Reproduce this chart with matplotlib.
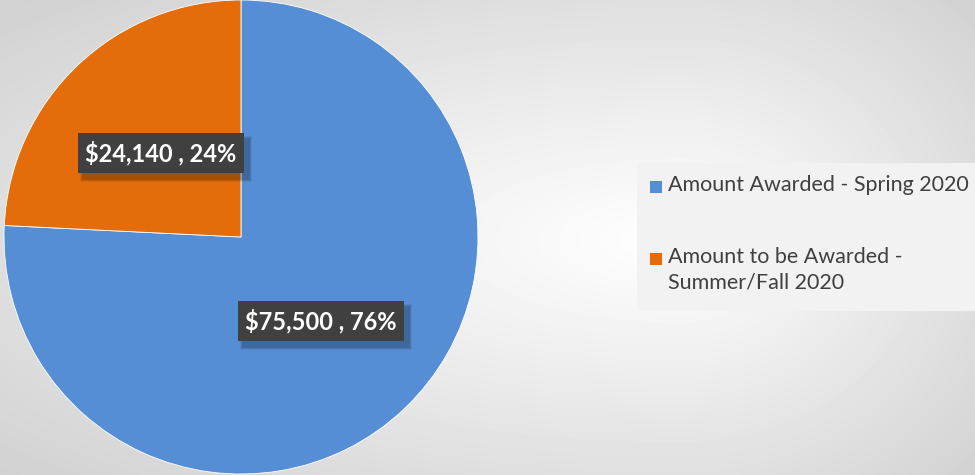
import numpy as np
import matplotlib
matplotlib.use('Agg')
import matplotlib.pyplot as plt
from matplotlib.patches import Rectangle
from matplotlib.transforms import IdentityTransform

# data
labels = ['Amount Awarded - Spring 2020', 'Amount to be Awarded -\nSummer/Fall 2020']
amounts = [75500, 24140]
colors = ['#558ED5', '#E46C0A']

W, H = 975, 475
plt.rcParams['font.family'] = ['Lato', 'DejaVu Sans']

fig = plt.figure(figsize=(W / 100, H / 100), dpi=100)

# background: soft white-to-grey gradient
bg = fig.add_axes([0, 0, 1, 1], zorder=0)
xx, yy = np.meshgrid(np.arange(W), np.arange(H))
cx, cy = 680, 240
sx = np.where(xx > cx, 400.0, 900.0)
d = np.sqrt(((xx - cx) / sx) ** 2 + ((yy - cy) / 330.0) ** 2)
g = np.clip(255 - 44 * d, 195, 255) / 255
bg.imshow(g, cmap='gray', vmin=0, vmax=1, aspect='auto', interpolation='bilinear')
bg.set_axis_off()

# pie
ax = fig.add_axes([4 / W, 1 / H, 474 / W, 474 / H], zorder=1)
wedges, _ = ax.pie(amounts, colors=colors, startangle=90, counterclock=False,
                   radius=1, wedgeprops=dict(linewidth=0.6, edgecolor='white'))
ax.set_xlim(-1, 1)
ax.set_ylim(-1, 1)
ax.set_aspect('equal')
ax.set_axis_off()

total = sum(amounts)
boxes = []
for w, val in zip(wedges, amounts):
    ang = np.deg2rad((w.theta1 + w.theta2) / 2)
    x, y = 0.49 * np.cos(ang), 0.49 * np.sin(ang)
    txt = f"\\${val:,} , {val / total:.0%}"
    t = ax.text(x, y, txt, ha='center', va='center', fontsize=17, fontweight='bold',
                color='white', zorder=6)
    boxes.append(t)

# dark label boxes with a soft drop shadow
fig.canvas.draw()
renderer = fig.canvas.get_renderer()
for t in boxes:
    bb = t.get_window_extent(renderer)
    px, py = 7, 8
    x0, y0 = bb.x0 - px, bb.y0 - py
    bw, bh = bb.width + 2 * px, bb.height + 2 * py
    for k, a in [(6, 0.06), (4, 0.09), (2, 0.13)]:
        ax.add_patch(Rectangle((x0 + 5 - k / 2, y0 - 6 - k / 2), bw + k, bh + k,
                               transform=IdentityTransform(), facecolor='black',
                               edgecolor='none', alpha=a, zorder=4))
    ax.add_patch(Rectangle((x0, y0), bw, bh, transform=IdentityTransform(),
                           facecolor='#404040', edgecolor='none', zorder=5))

# legend drawn by hand
lg = fig.add_axes([0, 0, 1, 1], zorder=2)
lg.set_xlim(0, W)
lg.set_ylim(H, 0)
lg.set_axis_off()
lg.patch.set_alpha(0)
lg.add_patch(Rectangle((637, 163), 340, 148, facecolor='#f2f2f2', edgecolor='none'))
ys = [187, 259]
for lab, c, y in zip(labels, colors, ys):
    lg.add_patch(Rectangle((650, y - 6), 12, 12, facecolor=c, edgecolor='none'))
    lg.text(668, y - 12, lab, ha='left', va='top', fontsize=15.5, color='#404040', linespacing=1.35)

fig.savefig('out.png', dpi=100)
